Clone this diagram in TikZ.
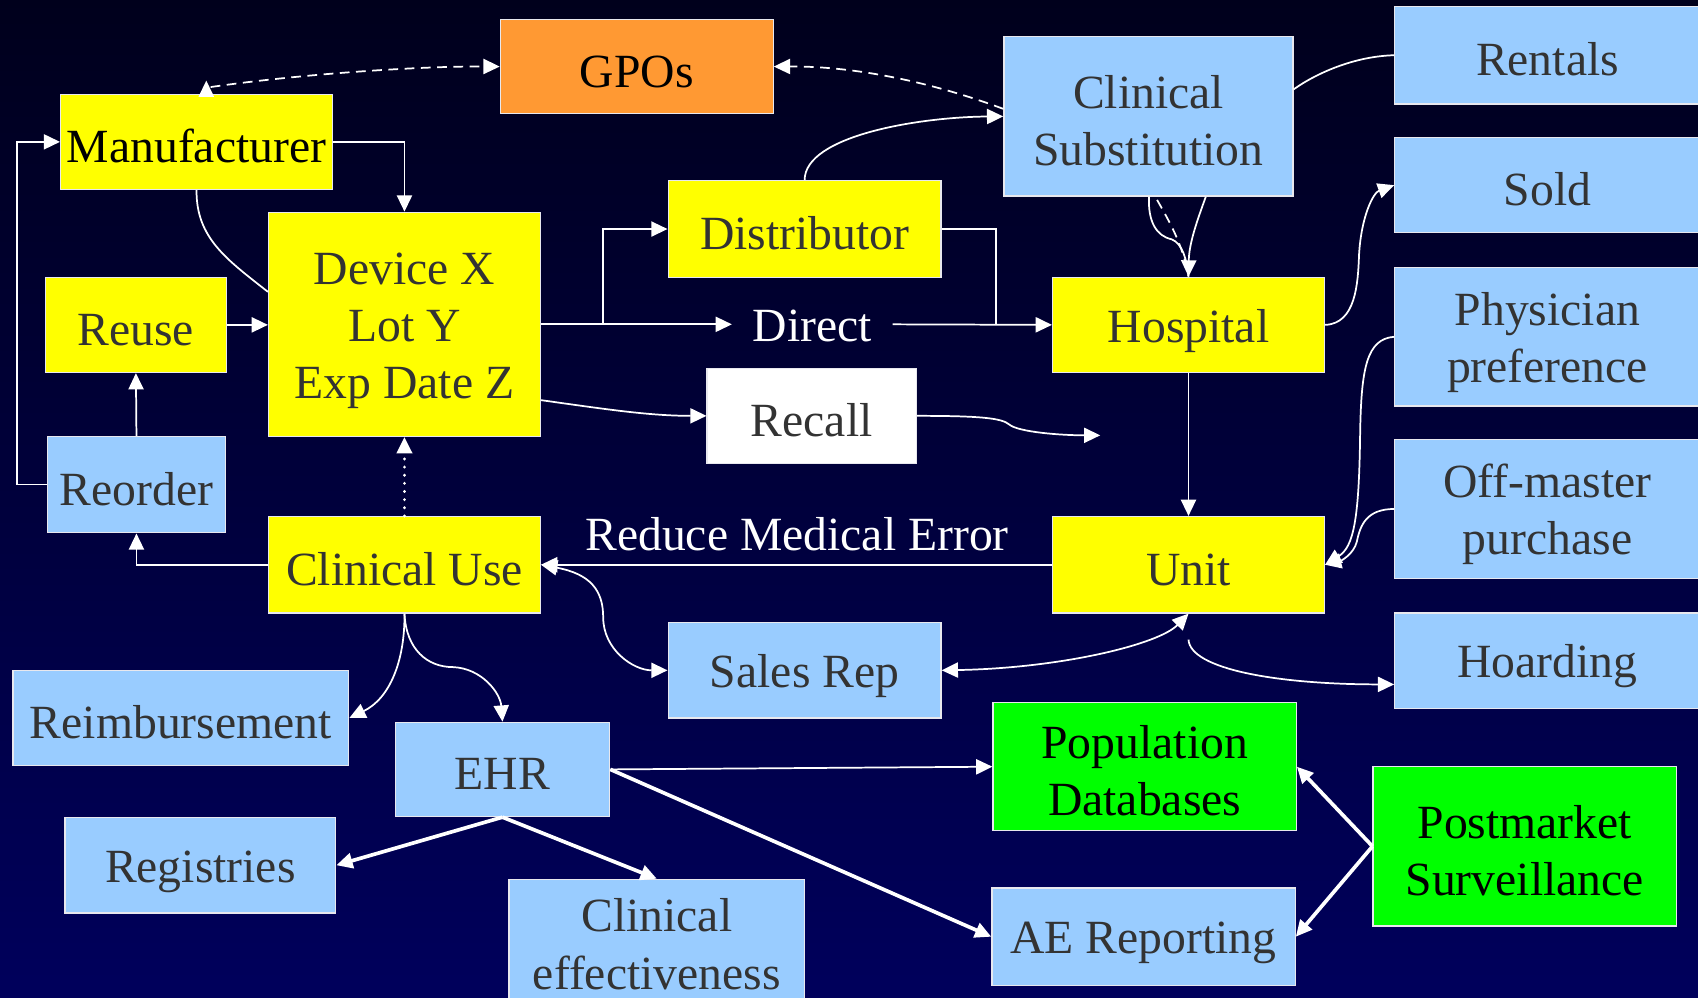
\documentclass[tikz,border=0pt]{standalone}
\usepackage{fontspec}
\setmainfont{Liberation Serif}
\usetikzlibrary{arrows.meta}
\definecolor{bgtop}{RGB}{0,0,28}
\definecolor{bgbot}{RGB}{0,0,92}
\definecolor{yel}{RGB}{255,255,0}
\definecolor{blu}{RGB}{153,204,255}
\definecolor{grn}{RGB}{0,255,0}
\definecolor{org}{RGB}{255,153,51}
\definecolor{txt}{RGB}{51,51,51}
\definecolor{edge}{RGB}{232,232,238}
\newcommand\bigfont{\fontsize{44}{53}\selectfont}
\newcommand\vstrut{\rule[-3pt]{0pt}{44pt}}
\begin{document}
\begin{tikzpicture}[x=1pt,y=-1pt,
  box/.style={draw=edge,line width=1.2pt,inner sep=0pt,align=center,font=\bigfont,text=txt},
  yb/.style={box,fill=yel},
  bb/.style={box,fill=blu},
  gb/.style={box,fill=grn,text=black},
  lbl/.style={inner sep=0pt,font=\bigfont,text=white},
  wire/.style={draw=white,line width=1.6pt},
  fatwire/.style={draw=white,line width=3.4pt},
  tipend/.style={-{Triangle[length=15pt,width=14pt]}},
  tipboth/.style={{Triangle[length=15pt,width=14pt]}-{Triangle[length=15pt,width=14pt]}},
  dashline/.style={dash pattern=on 9pt off 6pt},
  dotline/.style={dash pattern=on 0.01pt off 7.5pt,line cap=round,line width=3pt}
]
\shade[top color=bgtop,bottom color=bgbot] (0,0) rectangle (1568,921);
\useasboundingbox (0,0) rectangle (1568,921);

% nodes
\node[box,fill=org,text=black,minimum width=252,minimum height=87] (gpo) at (588,61.5) {\vstrut GPOs};
\node[yb,text=black,minimum width=251,minimum height=88] (manu) at (181.5,131) {\vstrut Manufacturer};
\node[yb,minimum width=251,minimum height=207] (device) at (373.5,299.5) {\vstrut Device X\\\vstrut Lot Y\\\vstrut Exp Date Z};
\node[yb,minimum width=167,minimum height=88] (reuse) at (125.5,300) {\vstrut Reuse};
\node[bb,minimum width=164,minimum height=89] (reorder) at (126,447.5) {\vstrut Reorder};
\node[yb,minimum width=251,minimum height=89] (cu) at (373.5,521.5) {\vstrut Clinical Use};
\node[yb,minimum width=252,minimum height=89] (dist) at (743,211.5) {\vstrut Distributor};
\node[lbl,inner xsep=19pt] (direct) at (750,301) {Direct};
\node[box,fill=white,minimum width=193,minimum height=88] (recall) at (749.5,384) {\vstrut Recall};
\node[bb,minimum width=267,minimum height=147] (cs) at (1060.5,107.5) {\vstrut Clinical\\\vstrut Substitution};
\node[yb,minimum width=251,minimum height=88] (hosp) at (1097.5,300) {\vstrut Hospital};
\node[yb,minimum width=251,minimum height=89] (unit) at (1097.5,521.5) {\vstrut Unit};
\node[bb,minimum width=282,minimum height=90] (rent) at (1429,51) {\vstrut Rentals};
\node[bb,minimum width=282,minimum height=88] (sold) at (1429,171) {\vstrut Sold};
\node[bb,minimum width=282,minimum height=128] (phys) at (1429,311) {\vstrut Physician\\\vstrut preference};
\node[bb,minimum width=282,minimum height=128] (offm) at (1429,470) {\vstrut Off-master\\\vstrut purchase};
\node[bb,minimum width=282,minimum height=88] (hoard) at (1429,610) {\vstrut Hoarding};
\node[bb,minimum width=252,minimum height=88] (sales) at (743,619) {\vstrut Sales Rep};
\node[bb,minimum width=310,minimum height=88] (reimb) at (167,663) {\vstrut Reimbursement};
\node[bb,minimum width=198,minimum height=87] (ehr) at (464,710.5) {\vstrut EHR};
\node[bb,minimum width=250,minimum height=88] (reg) at (185,799) {\vstrut Registries};
\node[bb,minimum width=273,minimum height=112] (ce) at (606.5,868) {\vstrut Clinical\\\vstrut effectiveness};
\node[gb,minimum width=280,minimum height=118] (popdb) at (1057,708) {\vstrut Population\\\vstrut Databases};
\node[gb,minimum width=280,minimum height=147] (pms) at (1408,781.5) {\vstrut Postmarket\\\vstrut Surveillance};
\node[bb,minimum width=280,minimum height=90] (ae) at (1056,865) {\vstrut AE Reporting};
\node[lbl] (rme) at (736,493) {Reduce Medical Error};

\coordinate (br) at (557,299.5);
\coordinate (jn) at (920,299.5);
\coordinate (rend) at (1016,402);

% connectors
\draw[wire,tipend] ([xshift=9pt]manu.north) -- ++(0,-12);
\draw[wire,dashline,tipend] ([xshift=13pt,yshift=6pt]manu.north) .. controls (280,68) and (390,61) .. (gpo.west);
\draw[wire,dashline,tipend] ([yshift=7pt]cs.west) .. controls (850,72) and (780,61) .. (gpo.east);
\draw[wire,tipend] (manu.east) -| (device.north);
\draw[wire,tipend] (reorder.west) -- ++(-28,0) |- (manu.west);
\draw[wire] (manu.south) .. controls (181,220) and (210,240) .. ([yshift=30pt]device.west);
\draw[wire,tipend] (reuse.east) -- (reuse.east -| device.west);
\draw[wire,tipend] (reorder.north) -- (reuse.south);
\draw[wire,tipend] (cu.west) -| (reorder.south);
\draw[wire,dotline,tipend] (cu.north) -- (device.south);
\draw[wire,tipend] (device.east) -- (device.east -| direct.west);
\draw[wire,tipend] (br) |- (dist.west);
\draw[wire] (dist.east) -| (jn);
\draw[wire,tipend] (device.east -| direct.east) -- (hosp.west);
\draw[wire,tipend] ([yshift=-70pt]device.east) .. controls (560,378) and (600,384) .. (recall.west);
\draw[wire,tipend] (recall.east) .. controls (905,384) and (925,386) .. (932,392) .. controls (940,399) and (980,402) .. (rend);
\draw[wire,tipend] (dist.north) .. controls (743,125) and (850,108) .. (cs.west);
\draw[wire] ([xshift=0.5pt]cs.south) .. controls (1060,205) and (1068,218) .. (1082,221) .. controls (1092,225) and (1096,240) .. (hosp.north);
\draw[wire,dashline] ([xshift=8pt,yshift=-3pt]cs.south) .. controls (1080,205) and (1092,225) .. (hosp.north);
\draw[wire,tipend] ([xshift=53pt]cs.south) .. controls (1105,205) and (1098,225) .. (hosp.north);
\draw[wire] (rent.west) .. controls (1250,52) and (1215,68) .. ([yshift=25pt]cs.east);
\draw[wire,tipend] (hosp.east) .. controls (1252,299) and (1254,262) .. (1255,235) .. controls (1257,200) and (1268,178) .. (sold.west);
\draw[wire,tipend] (hosp.south) -- (unit.north);
\draw[wire,tipend] (phys.west) .. controls (1262,313) and (1257,340) .. (1256,400) .. controls (1255,480) and (1250,505) .. (unit.east);
\draw[wire,tipend] (offm.west) .. controls (1262,470) and (1256,485) .. (1253,500) .. controls (1250,512) and (1238,518) .. (unit.east);
\draw[wire,tipend] (unit.west) -- (cu.east);
\draw[wire,tipboth] (cu.east) .. controls (545,530) and (557,545) .. (557,570) .. controls (557,600) and (585,619) .. (sales.west);
\draw[wire,tipboth] (sales.east) .. controls (980,617) and (1070,595) .. (unit.south);
\draw[wire,tipend] ([yshift=-24pt]unit.south) .. controls (1099,618) and (1180,632) .. ([yshift=-22pt]hoard.west);
\draw[wire,tipend] (cu.south) .. controls (374,610) and (360,645) .. (reimb.east);
\draw[wire,tipend] (cu.south) .. controls (375,600) and (395,616) .. (418,616) .. controls (445,617) and (462,640) .. (ehr.north);
\draw[fatwire,tipend] (ehr.south) -- (reg.east);
\draw[fatwire,tipend] (ehr.south) -- (ce.north);
\draw[wire,tipend] (ehr.east) -- (popdb.west);
\draw[fatwire,tipend] (ehr.east) -- (ae.west);
\draw[fatwire,tipend] (pms.west) -- (popdb.east);
\draw[fatwire,tipend] (pms.west) -- (ae.east);
\end{tikzpicture}
\end{document}
